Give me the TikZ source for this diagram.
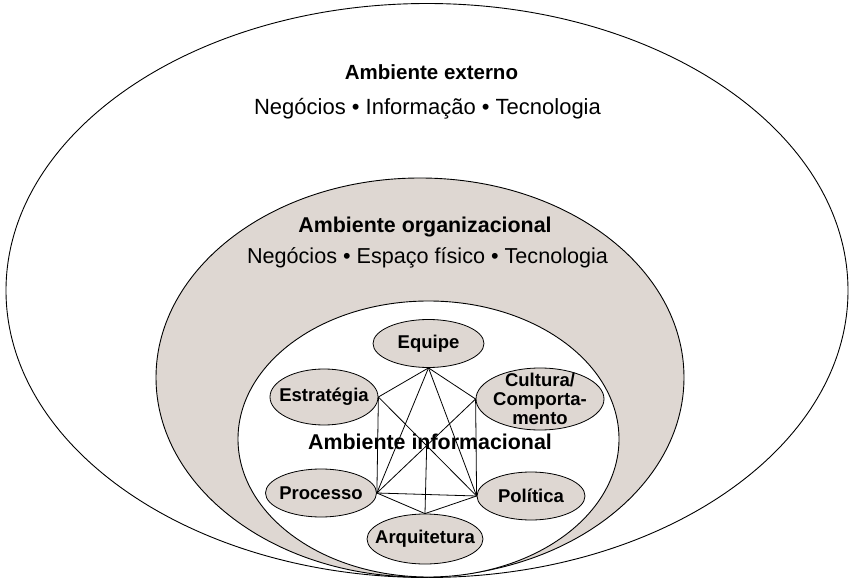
\documentclass[tikz,border=0pt]{standalone}
\usepackage{fontspec}
\setmainfont{Liberation Sans}
\usetikzlibrary{shapes.geometric}
\definecolor{shade}{RGB}{222,215,210}
\begin{document}
\begin{tikzpicture}[x=1pt,y=-1pt,
  ring/.style={draw=black, line width=0.9pt},
  blob/.style={ellipse, draw=black, line width=0.8pt, fill=shade, inner sep=0pt},
  link/.style={draw=black, line width=0.8pt},
  every label/.style={font=\bfseries\fontsize{18.5}{19}\selectfont, align=center, inner sep=0pt},
  ttl/.style={font=\bfseries\fontsize{#1}{#1}\selectfont, anchor=base, inner sep=0pt},
  subt/.style={font=\fontsize{#1}{#1}\selectfont, anchor=base, inner sep=0pt}]
\useasboundingbox (0,0) rectangle (855,583);
\fill[white] (0,0) rectangle (855,583);
% rings
\draw[ring, fill=white] (427,290.5) ellipse [x radius=421pt, y radius=287pt];
\draw[ring, fill=shade] (420,377.5) ellipse [x radius=264pt, y radius=199.5pt];
\draw[ring, fill=white] (428.5,439) ellipse [x radius=190.5pt, y radius=138pt];
% titles
\node[ttl=20.5] (ext) at (431.5,80) {Ambiente externo};
\node[subt=22] (extsub) at (427.5,115) {Negócios • Informação • Tecnologia};
\node[ttl=21.4] (org) at (425,233) {Ambiente organizacional};
\node[subt=21.6] (orgsub) at (427.5,263) {Negócios • Espaço físico • Tecnologia};
% component nodes
\node[blob, minimum width=111pt, minimum height=48pt, label=center:{Equipe}] (eq) at (428.5,343.5) {};
\node[blob, minimum width=108pt, minimum height=56pt, label=center:{Estratégia}] (estr) at (324,397) {};
\node[blob, minimum width=128pt, minimum height=62pt, label=center:{Cultura/\\Comporta-\\mento}] (cult) at (540,399) {};
\node[blob, minimum width=111pt, minimum height=48pt, label=center:{Processo}] (proc) at (321,493) {};
\node[blob, minimum width=108pt, minimum height=48pt, label=center:{Política}] (pol) at (531,496) {};
\node[blob, minimum width=116pt, minimum height=50pt, label=center:{Arquitetura}] (arq) at (425,539) {};
% connectors
\coordinate (mid) at (intersection of estr.east--pol.west and cult.west--proc.east);
\draw[link] (eq.south) -- (estr.east);
\draw[link] (eq.south) -- (cult.west);
\draw[link] (eq.south) -- (proc.east);
\draw[link] (eq.south) -- (pol.west);
\draw[link] (estr.east) -- (proc.east);
\draw[link] (cult.west) -- (pol.west);
\draw[link] (estr.east) -- (pol.west);
\draw[link] (cult.west) -- (proc.east);
\draw[link] (proc.east) -- (pol.west);
\draw[link] (proc.east) -- (arq.north);
\draw[link] (pol.west) -- (arq.north);
\draw[link] (mid) -- (arq.north);
\node[ttl=21.4] (inf) at (430,449) {Ambiente informacional};
\end{tikzpicture}
\end{document}
